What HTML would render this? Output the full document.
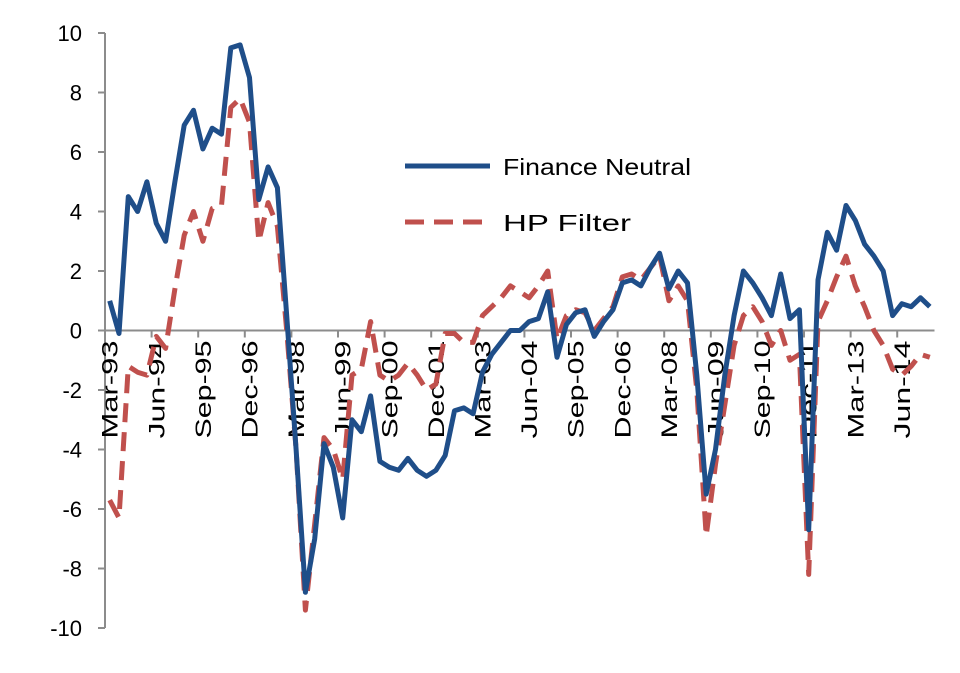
<!DOCTYPE html>
<html><head><meta charset="utf-8"><style>
html,body{margin:0;padding:0;background:#fff;}
svg{display:block;font-family:"Liberation Sans",Arial,sans-serif;}
</style></head><body>
<svg id="chart" width="960" height="673" viewBox="0 0 960 673" xmlns="http://www.w3.org/2000/svg">
<g id="grid"></g>
<g id="series"></g>
<g id="legend">
  <line x1="405" y1="166" x2="490" y2="166" stroke="#1f4e89" stroke-width="5"/>
  <text x="503" y="175" font-size="23" textLength="188" lengthAdjust="spacingAndGlyphs" fill="#000">Finance Neutral</text>
  <line x1="405" y1="222" x2="490" y2="222" stroke="#c0504d" stroke-width="5" stroke-dasharray="19,10"/>
  <text x="503" y="231" font-size="23" textLength="128" lengthAdjust="spacingAndGlyphs" fill="#000">HP Filter</text>
</g>
</svg>
<script>
const yTicks = [10,8,6,4,2,0,-2,-4,-6,-8,-10];
const xLabels = ["Mar-93","Jun-94","Sep-95","Dec-96","Mar-98","Jun-99","Sep-00","Dec-01","Mar-03","Jun-04","Sep-05","Dec-06","Mar-08","Jun-09","Sep-10","Dec-11","Mar-13","Jun-14"];
const financeNeutral = [1.0,-0.1,4.5,4.0,5.0,3.6,3.0,5.0,6.9,7.4,6.1,6.8,6.6,9.5,9.6,8.5,4.4,5.5,4.8,0.5,-4.0,-8.8,-7.0,-3.8,-4.6,-6.3,-3.0,-3.4,-2.2,-4.4,-4.6,-4.7,-4.3,-4.7,-4.9,-4.7,-4.2,-2.7,-2.6,-2.8,-1.4,-0.8,-0.4,0.0,0.0,0.3,0.4,1.3,-0.9,0.2,0.6,0.7,-0.2,0.3,0.7,1.6,1.7,1.5,2.1,2.6,1.4,2.0,1.6,-1.5,-5.5,-4.0,-1.5,0.5,2.0,1.6,1.1,0.5,1.9,0.4,0.7,-6.7,1.7,3.3,2.7,4.2,3.7,2.9,2.5,2.0,0.5,0.9,0.8,1.1,0.8];
const hpFilter = [-5.7,-6.3,-1.2,-1.4,-1.5,-0.2,-0.6,1.4,3.2,4.0,3.0,4.1,4.2,7.5,7.8,7.0,3.0,4.3,3.5,0.0,-4.0,-9.4,-6.5,-3.6,-4.0,-5.0,-1.5,-1.3,0.3,-1.5,-1.7,-1.5,-1.1,-1.5,-2.0,-1.8,-0.1,-0.1,-0.4,-0.4,0.5,0.8,1.1,1.5,1.3,1.1,1.5,2.0,-0.3,0.5,0.7,0.6,0.0,0.4,0.8,1.8,1.9,1.7,2.1,2.5,1.0,1.5,1.0,-2.0,-6.9,-4.5,-2.5,-0.5,0.5,0.8,0.3,-0.5,0.0,-1.0,-0.8,-8.2,0.3,1.0,1.8,2.5,1.5,0.8,0.0,-0.5,-1.3,-1.5,-1.2,-0.8,-0.9];

const NS="http://www.w3.org/2000/svg";
const X0=105, X1=934.5, Y0=33, Y1=628, YMAX=10, YMIN=-10;
const N=financeNeutral.length;
const step=(X1-X0)/N;
function xPos(i){return X0+step*(i+0.5);}
function yPos(v){return Y0+(YMAX-v)/(YMAX-YMIN)*(Y1-Y0);}
function mk(tag,attrs,parent){const e=document.createElementNS(NS,tag);for(const k in attrs)e.setAttribute(k,attrs[k]);parent.appendChild(e);return e;}

const grid=document.getElementById('grid');
const yAxis=mk('line',{x1:X0,y1:Y0,x2:X0,y2:Y1,stroke:'#8c8c8c','stroke-width':2},grid);


yTicks.forEach(v=>{
  const y=yPos(v);
  const t=mk('line',{x1:X0-7,y1:y,x2:X0,y2:y,stroke:'#8c8c8c','stroke-width':2},grid);
  
  
  const l=mk('text',{x:82,y:y+8,'text-anchor':'end','font-size':22,fill:'#000'},grid);
  l.textContent=v;
  
  
});
const xAxis=mk('line',{x1:X0,y1:yPos(0),x2:X1,y2:yPos(0),stroke:'#8c8c8c','stroke-width':2},grid);


for(let k=1;k*5<=N;k++){
  const x=X0+step*5*k;
  const t=mk('line',{x1:x,y1:yPos(0),x2:x,y2:yPos(0)+7,stroke:'#8c8c8c','stroke-width':2},grid);
  
  
}
xLabels.forEach((lab,j)=>{
  const x=xPos(j*5)+8, y=yPos(0)+10;
  const l=mk('text',{x:0,y:0,'text-anchor':'end','font-size':22,textLength:98,lengthAdjust:'spacingAndGlyphs',fill:'#000',transform:`translate(${x},${y}) rotate(-90)`},grid);
  l.textContent=lab;
  
  
});

const ser=document.getElementById('series');
function pts(arr){return arr.map((v,i)=>xPos(i).toFixed(1)+','+yPos(v).toFixed(1)).join(' ');}
const hp=mk('polyline',{points:pts(hpFilter),fill:'none',stroke:'#c0504d','stroke-width':5,'stroke-dasharray':'19,10','stroke-linejoin':'round'},ser);


const fn=mk('polyline',{points:pts(financeNeutral),fill:'none',stroke:'#1f4e89','stroke-width':5,'stroke-linejoin':'round'},ser);


</script>
</body></html>
